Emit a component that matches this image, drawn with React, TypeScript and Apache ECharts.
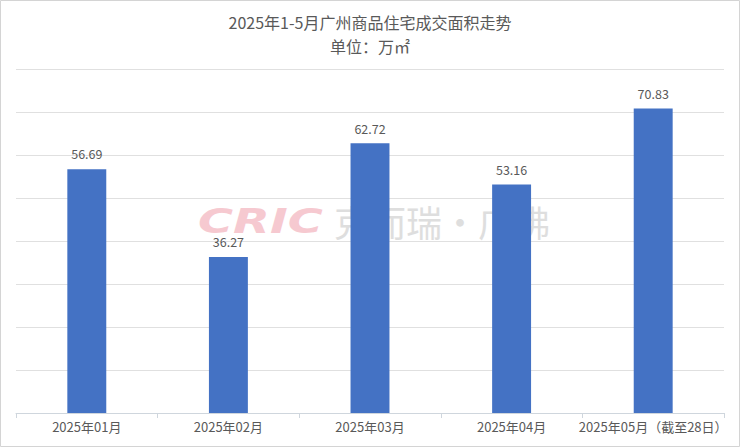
import React, { useEffect, useRef } from "react";
import * as echarts from "echarts";

const categories = ["2025年01月", "2025年02月", "2025年03月", "2025年04月", "2025年05月（截至28日）"];
const values = [56.69, 36.27, 62.72, 53.16, 70.83];
const titleText = "2025年1-5月广州商品住宅成交面积走势";
const subtitleText = "单位：万㎡";

export default function App() {
  const ref = useRef<HTMLDivElement>(null);
  useEffect(() => {
    if (!ref.current) return;
    const chart = echarts.init(ref.current, null, { renderer: "svg" });
    const font = '"Noto Sans CJK SC", "Noto Sans", sans-serif';
    chart.setOption({
      animation: false,
      backgroundColor: "#ffffff",
      title: [
        {
          text: titleText,
          left: "center",
          top: 8,
          textStyle: { fontFamily: font, fontSize: 16, lineHeight: 18, fontWeight: "normal", color: "#595959" },
        },
        {
          text: subtitleText,
          left: "center",
          top: 32,
          textStyle: { fontFamily: font, fontSize: 16, lineHeight: 18, fontWeight: "normal", color: "#595959" },
        },
      ],
      grid: { left: 16, right: 16, top: 69, bottom: 34, containLabel: false },
      graphic: [
        {
          type: "rect",
          z: -10,
          shape: { x: 0.5, y: 0.5, width: 739, height: 446 },
          style: { fill: "none", stroke: "#d4d4d4", lineWidth: 1 },
        },
        {
          type: "text",
          z: 0,
          x: 198,
          y: 205,
          scaleX: 1.45,
          style: {
            text: "CRIC",
            font: 'italic 900 33px "DejaVu Sans", sans-serif',
            fill: "#f6c9d0",
          },
        },
        {
          type: "text",
          z: 0,
          x: 334,
          y: 203,
          style: {
            text: "克而瑞·广佛",
            font: '36px "Noto Sans CJK SC", sans-serif',
            fill: "#dedede",
          },
        },
      ],
      xAxis: {
        type: "category",
        data: categories,
        axisLine: { lineStyle: { color: "#cfd6dd", width: 1 } },
        axisTick: { show: true, length: 5, lineStyle: { color: "#cfd6dd" } },
        axisLabel: { fontFamily: font, fontSize: 13, color: "#595959", margin: 7, interval: 0 },
      },
      yAxis: {
        type: "value",
        min: 0,
        max: 80,
        interval: 10,
        axisLabel: { show: false },
        axisLine: { show: false },
        axisTick: { show: false },
        splitLine: { lineStyle: { color: "#e0e0e0", width: 1 } },
      },
      series: [
        {
          type: "bar",
          data: values,
          barWidth: "27.5%",
          z: 5,
          itemStyle: { color: "#4472c4" },
          label: {
            show: true,
            position: "top",
            distance: 9,
            fontFamily: font,
            fontSize: 12.5,
            color: "#595959",
            formatter: (p: any) => p.value.toFixed(2),
          },
        },
      ],
    });
    return () => chart.dispose();
  }, []);
  return (
    <div
      ref={ref}
      style={{ position: "fixed", left: 0, top: 0, width: 740, height: 447 }}
    />
  );
}
